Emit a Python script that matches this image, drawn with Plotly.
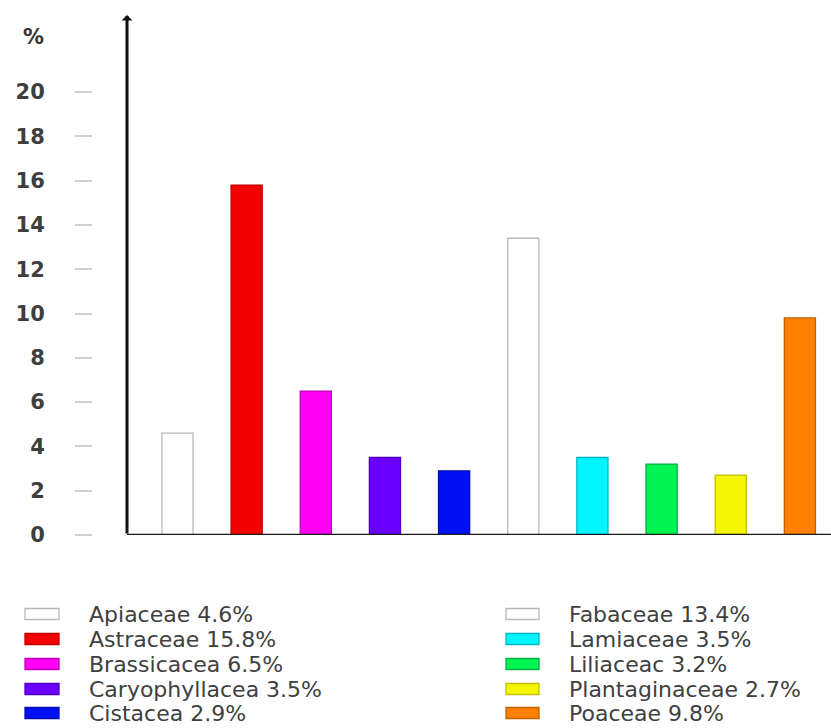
import plotly.graph_objects as go

# Plant families and their share of the flora (%)
families = ["Apiaceae", "Astraceae", "Brassicacea", "Caryophyllacea", "Cistacea",
            "Fabaceae", "Lamiaceae", "Liliaceac", "Plantaginaceae", "Poaceae"]
shares = [4.6, 15.8, 6.5, 3.5, 2.9, 13.4, 3.5, 3.2, 2.7, 9.8]
fill_colors = ["#ffffff", "#f50000", "#ff00f5", "#6a00ff", "#0010f5",
               "#ffffff", "#00f5ff", "#00f550", "#f5f500", "#ff8000"]
edge_colors = ["#b8b8b8", "#c00000", "#c000c0", "#5000c0", "#0010b0",
               "#b8b8b8", "#00b8c0", "#00b040", "#c0c000", "#c06000"]
y_ticks = [0, 2, 4, 6, 8, 10, 12, 14, 16, 18, 20]

W, H = 831, 728
TOP, BOTTOM = 15, 535          # plot area in pixels
AXIS_X = 127                   # left edge of plot area

def py(p):
    """pixel row -> paper y"""
    return (BOTTOM - p) / (BOTTOM - TOP)

fig = go.Figure()
fig.add_trace(go.Bar(
    x=list(range(len(families))),
    y=shares,
    width=0.45,
    marker=dict(color=fill_colors, line=dict(color=edge_colors, width=1.3)),
    showlegend=False,
    hoverinfo="skip",
))

text_col = "#3e3e3e"
fig.update_layout(
    width=W, height=H,
    margin=dict(l=0, r=0, t=TOP, b=H - BOTTOM, autoexpand=False),
    paper_bgcolor="white", plot_bgcolor="white",
    xaxis=dict(domain=[AXIS_X / W, 1], range=[-0.73, 9.45],
               showticklabels=False, ticks="", showgrid=False,
               zeroline=False, showline=False),
    yaxis=dict(range=[0, 23.48], anchor="free", position=92 / W,
               tickvals=y_ticks, ticktext=[str(v) for v in y_ticks],
               ticks="outside", ticklen=17, tickwidth=1.5, tickcolor="#cfcfcf",
               ticklabelstandoff=26,
               tickfont=dict(family="DejaVu Sans", size=21, color=text_col, weight="bold"),
               showgrid=False, zeroline=False, showline=False),
)

# axis lines: horizontal baseline and vertical arrow
fig.add_shape(type="line", xref="x domain", yref="y", x0=0, x1=1, y0=0, y1=0,
              line=dict(color="#1a1a1a", width=2.5))
fig.add_annotation(xref="x domain", yref="paper", x=0, y=1, text="",
                   showarrow=True, ax=0, ay=BOTTOM - TOP, axref="pixel", ayref="pixel",
                   arrowhead=1, arrowsize=0.6, arrowwidth=3, arrowcolor="#111111")

# unit label
fig.add_annotation(xref="paper", yref="paper", x=46 / W, y=py(37), text="%",
                   showarrow=False, xanchor="right", yanchor="middle",
                   font=dict(family="DejaVu Sans", size=21, color="#333333", weight="bold"))

# legend in two columns
rows = [614, 639, 664, 689, 713]
cols = [(25, 59, 87), (506, 539, 567)]
for i, (name, val) in enumerate(zip(families, shares)):
    c = cols[i // 5]
    r = rows[i % 5]
    fig.add_shape(type="rect", xref="paper", yref="paper",
                  x0=c[0] / W, x1=c[1] / W, y0=py(r + 5.5), y1=py(r - 5.5),
                  fillcolor=fill_colors[i], line=dict(color=edge_colors[i], width=1.3))
    fig.add_annotation(xref="paper", yref="paper", x=c[2] / W, y=py(r),
                       text=f"{name} {val}%", showarrow=False,
                       xanchor="left", yanchor="middle",
                       font=dict(family="DejaVu Sans", size=22, color="#404040"))

fig.write_html("out.html")
